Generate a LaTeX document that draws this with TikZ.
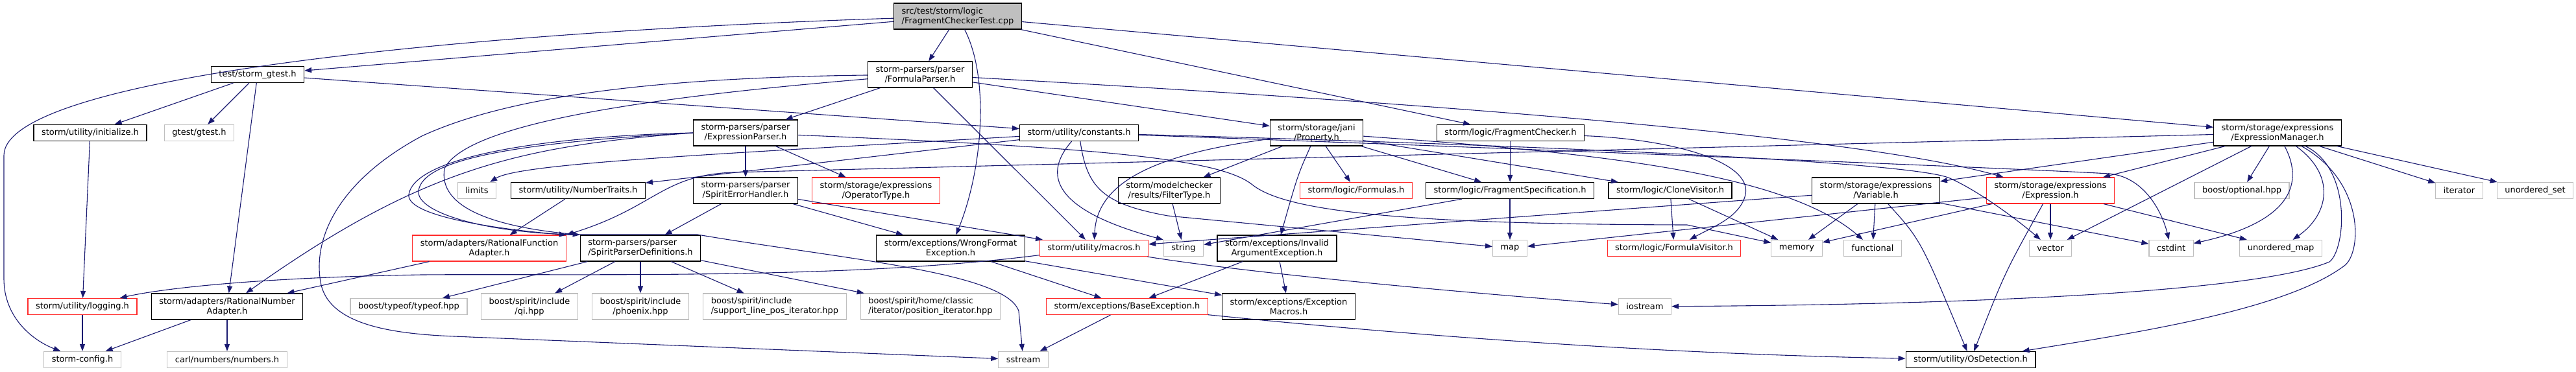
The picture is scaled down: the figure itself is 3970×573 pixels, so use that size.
\documentclass[tikz,border=0pt]{standalone}
\usepackage{fontspec}
\setmainfont{DejaVu Sans}
\usetikzlibrary{arrows.meta}
\definecolor{edgeblue}{HTML}{191970}
\definecolor{sysgray}{HTML}{BFBFBF}
\definecolor{truncred}{HTML}{FF2A2A}

\begin{document}
\begin{tikzpicture}[
  x=1pt, y=-1pt,
  font=\fontsize{13}{15}\selectfont,
  hdr/.style={
    draw=black,
    fill=white,
    line width=1.2pt,
    inner xsep=12pt,
    inner ysep=3pt,
    minimum height=25pt,
    align=center
  },
  sys/.style={hdr, draw=sysgray},
  trunc/.style={hdr, draw=truncred},
  root/.style={hdr, fill=sysgray, align=left},
  two/.style={minimum height=40pt},
  arr/.style={-{Triangle[length=11pt,width=8pt]}, draw=edgeblue, line width=1.1pt}
]
\useasboundingbox (0,0) rectangle (3970,573);

\node[root,two] (test) at (1476,25) {src/test/storm/logic\\/FragmentCheckerTest.cpp};

\node[hdr] (gtest) at (397,115) {test/storm\_gtest.h};
\node[hdr,two] (fparser) at (1418,115) {storm-parsers/parser\\/FormulaParser.h};

\node[hdr] (init) at (139,205) {storm/utility/initialize.h};
\node[sys] (gtestinc) at (307,205) {gtest/gtest.h};
\node[hdr,two] (eparser) at (1149,205) {storm-parsers/parser\\/ExpressionParser.h};
\node[hdr] (consts) at (1663,205) {storm/utility/constants.h};
\node[hdr,two] (prop) at (2029,205) {storm/storage/jani\\/Property.h};
\node[hdr] (fcheck) at (2328,205) {storm/logic/FragmentChecker.h};
\node[hdr,two] (exman) at (3510,205) {storm/storage/expressions\\/ExpressionManager.h};

\node[sys] (limits) at (735,294) {limits};
\node[hdr] (ntraits) at (891,294) {storm/utility/NumberTraits.h};
\node[hdr,two] (errh) at (1149,294) {storm-parsers/parser\\/SpiritErrorHandler.h};
\node[trunc,two] (optype) at (1350,294) {storm/storage/expressions\\/OperatorType.h};
\node[hdr,two] (filter) at (1802,294) {storm/modelchecker\\/results/FilterType.h};
\node[trunc] (formulas) at (2090,294) {storm/logic/Formulas.h};
\node[hdr] (fspec) at (2327,294) {storm/logic/FragmentSpecification.h};
\node[hdr] (clone) at (2574,294) {storm/logic/CloneVisitor.h};
\node[hdr,two] (var) at (2891,294) {storm/storage/expressions\\/Variable.h};
\node[trunc,two] (expr) at (3160,294) {storm/storage/expressions\\/Expression.h};
\node[sys] (bopt) at (3455,294) {boost/optional.hpp};
\node[sys] (iter) at (3790,294) {iterator};
\node[sys] (uset) at (3907,294) {unordered\_set};

\node[trunc,two] (rfa) at (754,383) {storm/adapters/RationalFunction\\Adapter.h};
\node[hdr,two,align=left] (spdef) at (987,383) {storm-parsers/parser\\/SpiritParserDefinitions.h};
\node[hdr,two] (wrongf) at (1465,383) {storm/exceptions/WrongFormat\\Exception.h};
\node[trunc] (macros) at (1686,383) {storm/utility/macros.h};
\node[sys] (string) at (1824,383) {string};
\node[hdr,two] (invarg) at (1968,383) {storm/exceptions/Invalid\\ArgumentException.h};
\node[sys] (map) at (2327,383) {map};
\node[trunc] (fvisit) at (2580,383) {storm/logic/FormulaVisitor.h};
\node[sys] (memory) at (2769,383) {memory};
\node[sys] (functional) at (2886,383) {functional};
\node[sys] (vector) at (3160,383) {vector};
\node[sys] (cstdint) at (3346,383) {cstdint};
\node[sys] (umap) at (3515,383) {unordered\_map};

\node[trunc] (logging) at (127,473) {storm/utility/logging.h};
\node[hdr,two] (rnadapt) at (350,473) {storm/adapters/RationalNumber\\Adapter.h};
\node[sys] (typeof) at (630,473) {boost/typeof/typeof.hpp};
\node[sys,two] (qi) at (816,473) {boost/spirit/include\\/qi.hpp};
\node[sys,two] (phoenix) at (987,473) {boost/spirit/include\\/phoenix.hpp};
\node[sys,two,align=left] (slpi) at (1194,473) {boost/spirit/include\\/support\_line\_pos\_iterator.hpp};
\node[sys,two,align=left] (posit) at (1434,473) {boost/spirit/home/classic\\/iterator/position\_iterator.hpp};
\node[trunc] (baseex) at (1737,473) {storm/exceptions/BaseException.h};
\node[hdr,two] (exmacros) at (1986,473) {storm/exceptions/Exception\\Macros.h};
\node[sys] (iostream) at (2535,473) {iostream};

\node[sys] (config) at (127,555) {storm-config.h};
\node[sys] (carl) at (350,555) {carl/numbers/numbers.h};
\node[sys] (sstream) at (1577,555) {sstream};
\node[hdr] (osdet) at (3037,555) {storm/utility/OsDetection.h};

\draw[arr] (test) .. controls (700,50) and (6,120) .. (6,240) -- (6,430) .. controls (6,490) and (50,525) .. (config);
\draw[arr] (test) -- (gtest);
\draw[arr] (test) -- (fparser);
\draw[arr] (test) .. controls (1525,120) and (1515,260) .. (wrongf);
\draw[arr] (test) -- (fcheck);
\draw[arr] (test) -- (exman);

\draw[arr] (gtest) -- (init);
\draw[arr] (gtest) -- (gtestinc);
\draw[arr] (gtest) -- (rnadapt);
\draw[arr] (gtest) -- (consts);
\draw[arr] (init) -- (logging);
\draw[arr] (logging) -- (config);
\draw[arr] (rnadapt) -- (config);
\draw[arr] (rnadapt) -- (carl);

\draw[arr] (fparser) -- (eparser);
\draw[arr] (fparser) -- (macros);
\draw[arr] (fparser) -- (prop);
\draw[arr] (fparser) .. controls (2400,170) and (2900,220) .. (expr);
\draw[arr] (fparser) .. controls (1000,120) and (780,150) .. (650,210) .. controls (520,280) and (480,370) .. (495,440) .. controls (510,500) and (600,515) .. (700,519) -- (sstream);
\draw[arr] (fparser) .. controls (1000,150) and (720,190) .. (685,260) .. controls (675,320) and (760,350) .. (spdef.north west);

\draw[arr] (eparser) -- (errh);
\draw[arr] (eparser) -- (optype);
\draw[arr] (eparser.west) .. controls (850,210) and (640,240) .. (630,300) .. controls (625,335) and (780,355) .. (rfa.north east);
\draw[arr] (eparser.west) .. controls (800,220) and (650,245) .. (645,295) .. controls (642,330) and (760,362) .. (900,362) -- (1075,362) .. controls (1300,400) and (1550,420) .. (1570,480) -- (sstream);
\draw[arr] (eparser.west) .. controls (800,225) and (650,260) .. (rnadapt);
\draw[arr] (eparser) .. controls (1700,228) and (1880,245) .. (1930,285) .. controls (1980,325) and (2150,346) .. (2600,347) -- (memory);

\draw[arr] (errh) -- (spdef);
\draw[arr] (errh) -- (wrongf);
\draw[arr] (errh) -- (macros);

\draw[arr] (spdef) -- (typeof);
\draw[arr] (spdef) -- (qi);
\draw[arr] (spdef) -- (phoenix);
\draw[arr] (spdef) -- (slpi);
\draw[arr] (spdef) -- (posit);

\draw[arr] (consts) .. controls (1100,238) and (800,252) .. (limits);
\draw[arr] (consts) -- (ntraits);
\draw[arr] (consts) .. controls (1580,300) and (1700,345) .. (string.north west);
\draw[arr] (consts) .. controls (1675,290) and (1700,315) .. (1800,333) -- (map);
\draw[arr] (consts) .. controls (2400,225) and (2950,250) .. (3005,275) .. controls (3050,295) and (3110,340) .. (vector);
\draw[arr] (consts) .. controls (2500,235) and (3150,262) .. (3250,268) .. controls (3300,272) and (3330,320) .. (cstdint);

\draw[arr] (prop) .. controls (1760,240) and (1690,290) .. (macros);
\draw[arr] (prop) -- (filter);
\draw[arr] (prop) .. controls (2000,270) .. (invarg);
\draw[arr] (prop) -- (formulas);
\draw[arr] (prop) -- (fspec);
\draw[arr] (prop) -- (clone);
\draw[arr] (prop) .. controls (2450,235) and (2750,265) .. (functional);

\draw[arr] (fcheck) -- (fspec);
\draw[arr] (fcheck) .. controls (2580,215) and (2700,250) .. (2690,300) .. controls (2682,335) and (2640,350) .. (fvisit);
\draw[arr] (fspec) -- (map);
\draw[arr] (fspec) -- (string);
\draw[arr] (filter) -- (string);
\draw[arr] (clone) -- (fvisit);
\draw[arr] (clone) -- (memory);

\draw[arr] (var) -- (memory);
\draw[arr] (var) -- (functional);
\draw[arr] (var) .. controls (2960,370) .. (osdet);
\draw[arr] (var) -- (cstdint);
\draw[arr] (var) -- (macros);

\draw[arr] (expr) -- (map);
\draw[arr] (expr) -- (memory);
\draw[arr] (expr) -- (vector);
\draw[arr] (expr) .. controls (3090,420) .. (osdet);
\draw[arr] (expr) -- (umap);

\draw[arr] (exman) -- (expr);
\draw[arr] (exman) -- (var);
\draw[arr] (exman) -- (vector);
\draw[arr] (exman) -- (bopt);
\draw[arr] (exman) .. controls (3555,290) and (3520,345) .. (cstdint);
\draw[arr] (exman) .. controls (3600,270) and (3590,330) .. (umap);
\draw[arr] (exman) .. controls (3625,260) and (3615,385) .. (3590,404) .. controls (3480,450) and (3050,470) .. (iostream);
\draw[arr] (exman) .. controls (3645,280) and (3640,390) .. (3613,410) .. controls (3520,480) and (3280,515) .. (osdet);
\draw[arr] (exman) -- (iter);
\draw[arr] (exman) -- (uset);
\draw[arr] (exman) -- (1130,266) .. controls (1020,270) and (1010,320) .. (rfa.north east);

\draw[arr] (ntraits) -- (rfa);
\draw[arr] (rfa) -- (rnadapt);

\draw[arr] (wrongf) -- (baseex);
\draw[arr] (wrongf) -- (exmacros);
\draw[arr] (invarg) -- (baseex);
\draw[arr] (invarg) -- (exmacros);
\draw[arr] (baseex) -- (sstream);
\draw[arr] (baseex) .. controls (2100,510) and (2500,545) .. (osdet);

\draw[arr] (macros) .. controls (1300,432) and (900,422) .. (650,424) .. controls (400,428) and (250,445) .. (logging);
\draw[arr] (macros) .. controls (1950,425) and (2300,455) .. (iostream);
\end{tikzpicture}
\end{document}
